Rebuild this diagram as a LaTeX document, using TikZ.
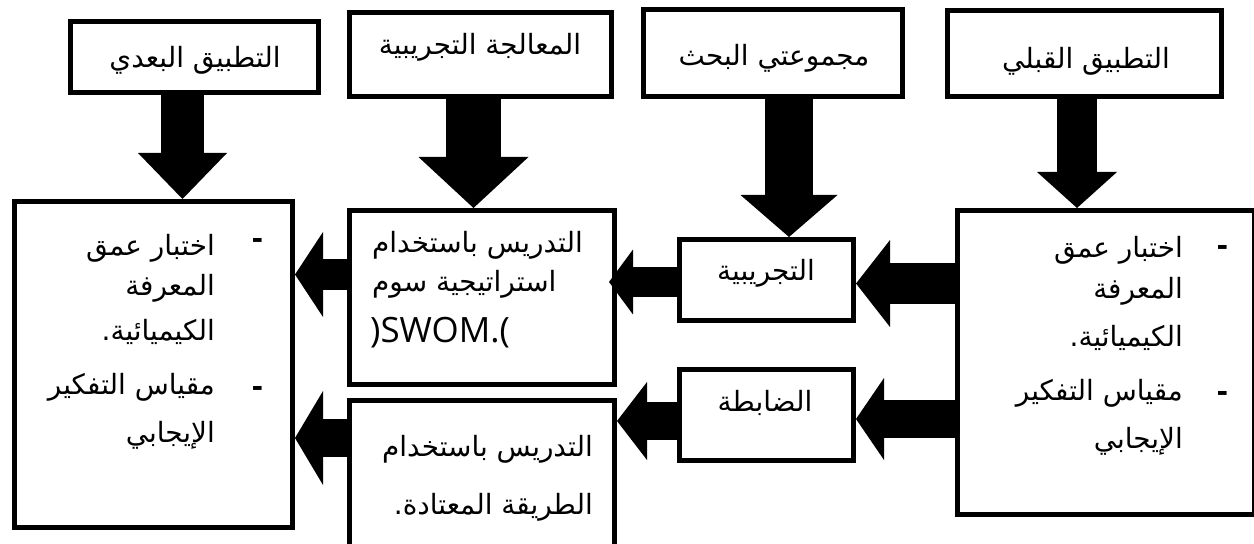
\documentclass[tikz,border=0pt]{standalone}
\usepackage{fontspec}
\usetikzlibrary{arrows.meta,calc}
\TeXXeTstate=1
\newfontfamily\arabicfont[Script=Arabic]{DejaVu Sans}
\newfontfamily\latinfont{Open Sans}
\newcommand{\artext}[1]{\beginR #1\endR}
\tikzset{
  box/.style={draw, line width=5bp, rectangle, inner sep=0pt, outer sep=2.5bp},
  ar/.style={font=\arabicfont\fontsize{28}{32}\selectfont, inner sep=0pt},
  dashmark/.style={font=\arabicfont\bfseries\fontsize{28}{30}\selectfont, inner sep=0pt},
  blk/.style n args={3}{draw=black, line width=#1,
    -{Triangle[width=#2 0 0,length=#3 0 0,line width=0pt 0 0]}},
}
\begin{document}
\begin{tikzpicture}[x=1bp,y=-1bp]
\useasboundingbox (0,0) rectangle (1254,544);
% boxes
\node[box, minimum width=248bp, minimum height=71bp] (B1) at (194.5,57) {};
\node[box, minimum width=262bp, minimum height=84bp] (B2) at (480.5,54.5) {};
\node[box, minimum width=259bp, minimum height=87bp] (B3) at (773,53) {};
\node[box, minimum width=274bp, minimum height=86bp] (B4) at (1084.5,53.5) {};
\node[box, minimum width=278bp, minimum height=326bp] (L) at (153.5,364.5) {};
\node[box, minimum width=265bp, minimum height=174bp] (S) at (482,297.5) {};
\node[box, minimum width=265bp, minimum height=169.5bp] (T) at (482,485.25) {};
\node[box, minimum width=174bp, minimum height=81bp] (E) at (766.5,280) {};
\node[box, minimum width=174bp, minimum height=91bp] (C) at (766.5,415) {};
\node[box, minimum width=297bp, minimum height=304bp] (R) at (1106,362.5) {};
% down arrows
\draw[blk={43bp}{89bp}{46bp}] ($(B1.south)+(-12,0)$) -- ($(B1.south|-L.north)+(-12,0)$);
\draw[blk={55bp}{110bp}{51bp}] ($(B2.south)+(-7,0)$) -- ($(B2.south|-S.north)+(-7,0)$);
\draw[blk={48bp}{97bp}{42bp}] ($(B3.south)+(16,0)$) -- ($(B3.south|-E.north)+(16,0)$);
\draw[blk={40bp}{80bp}{36bp}] ($(B4.south)+(-7.5,0)$) -- ($(B4.south|-R.north)+(-7.5,0)$);
% left arrows
\draw[blk={41bp}{87bp}{34bp}] ($(R.west|-E.east)+(0,3.5)$) -- ($(E.east)+(0,3.5)$);
\draw[blk={38bp}{82bp}{28bp}] ($(R.west|-C.east)+(0,4)$) -- ($(C.east)+(0,4)$);
\draw[blk={30bp}{65bp}{24bp}] ($(E.west)+(0,2)$) -- ($(S.east|-E.west)+(-8,2)$);
\draw[blk={38bp}{78bp}{30bp}] ($(C.west)+(0,6)$) -- ($(T.east|-C.west)+(0,6)$);
\draw[blk={31bp}{85bp}{28bp}] ($(S.west)+(0,-23)$) -- ($(L.east|-S.west)+(0,-23)$);
\draw[blk={37bp}{94bp}{28bp}] ($(T.west)+(0,-47.25)$) -- ($(L.east|-T.west)+(0,-47.25)$);
% top texts
\node[ar, anchor=base] (t1) at (195,68) {\artext{التطبيق البعدي}};
\node[ar, anchor=base] (t2) at (480,55) {\artext{المعالجة التجريبية}};
\node[ar, anchor=base] (t3) at (774,66) {\artext{مجموعتي البحث}};
\node[ar, anchor=base] (t4) at (1086,69) {\artext{التطبيق القبلي}};
% group texts
\node[ar, anchor=base] (e1) at (766,281) {\artext{التجريبية}};
\node[ar, anchor=base] (c1) at (765,411) {\artext{الضابطة}};
% SWOM box
\node[ar, anchor=base west] (s1) at (372,253) {\artext{التدريس باستخدام}};
\node[ar, anchor=base west] (s2) at (372,292) {\artext{استراتيجية سوم}};
\node[font=\latinfont\fontsize{35}{40}\selectfont, inner sep=0pt, anchor=base west] (s3) at (370,343) {)SWOM.(};
% traditional box
\node[ar, anchor=base east] (r1) at (593,456) {\artext{التدريس باستخدام}};
\node[ar, anchor=base east] (r2) at (593,514) {\artext{الطريقة المعتادة.}};
% left box
\node[ar, anchor=base east] (l1) at (215,256) {\artext{اختبار عمق}};
\node[ar, anchor=base east] (l2) at (215,296) {\artext{المعرفة}};
\node[ar, anchor=base east] (l3) at (215,341) {\artext{الكيميائية.}};
\node[ar, anchor=base east] (l4) at (215,394) {\artext{مقياس التفكير}};
\node[ar, anchor=base east] (l5) at (215,442) {\artext{الإيجابي}};
\node[dashmark] (ld1) at (257.5,243) {-};
\node[dashmark] (ld2) at (257.5,391) {-};
% right box
\node[ar, anchor=base east] (q1) at (1183,258) {\artext{اختبار عمق}};
\node[ar, anchor=base east] (q2) at (1183,299) {\artext{المعرفة}};
\node[ar, anchor=base east] (q3) at (1183,347) {\artext{الكيميائية.}};
\node[ar, anchor=base east] (q4) at (1183,400) {\artext{مقياس التفكير}};
\node[ar, anchor=base east] (q5) at (1183,448) {\artext{الإيجابي}};
\node[dashmark] (qd1) at (1222.5,250) {-};
\node[dashmark] (qd2) at (1222.5,396) {-};
\end{tikzpicture}
\end{document}
